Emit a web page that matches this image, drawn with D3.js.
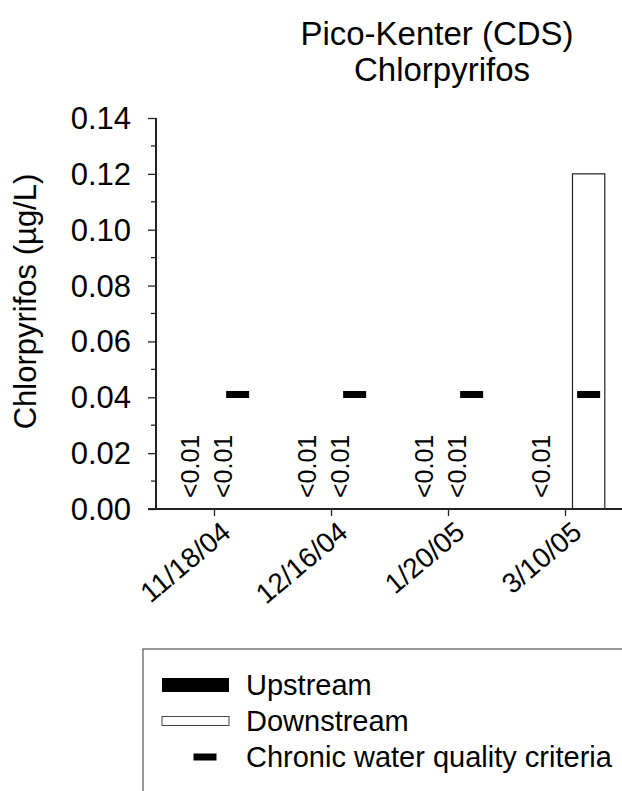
<!DOCTYPE html>
<html>
<head>
<meta charset="utf-8">
<script src="https://cdn.jsdelivr.net/npm/d3@7"></script>
<style>
  body { margin: 0; background: #fff; }
  text { font-family: "Liberation Sans", Arial, sans-serif; fill: #000; }
</style>
</head>
<body>
<div id="chart"></div>
<script>
// sampling dates and results (null = below detection limit, shown as "<0.01")
var dates = ["11/18/04", "12/16/04", "1/20/05", "3/10/05"];
var series = ["Upstream", "Downstream"];
var upstream = [null, null, null, null];
var downstream = [null, null, null, 0.12];
var criteria = [0.041, 0.041, 0.041, 0.041];
var ndLabel = "<0.01";
var yTicks = [0, 0.02, 0.04, 0.06, 0.08, 0.10, 0.12, 0.14];
var yMinor = [0.01, 0.03, 0.05, 0.07, 0.09, 0.11, 0.13];
var legendItems = ["Upstream", "Downstream", "Chronic water quality criteria"];

var W = 622, H = 791;
var plot = {left: 156, right: 624, top: 118, bottom: 509};
var barW = 32.3, groupShift = 7;

var svg = d3.select("#chart").append("svg")
    .attr("width", W).attr("height", H);

var x = d3.scaleBand().domain(dates).range([plot.left, plot.right]);
var xs = d3.scaleBand().domain(series).range([-barW, barW]);
var y = d3.scaleLinear().domain([0, 0.14]).range([plot.bottom, plot.top]);

function center(d) { return x(d) + x.bandwidth() / 2 + groupShift; }

// title
svg.append("text").attr("x", 437).attr("y", 45).attr("text-anchor", "middle")
    .style("font-size", "33px").text("Pico-Kenter (CDS)");
svg.append("text").attr("x", 442).attr("y", 81).attr("text-anchor", "middle")
    .style("font-size", "33px").text("Chlorpyrifos");

// y label
svg.append("text")
    .attr("transform", "translate(36," + ((plot.top + plot.bottom) / 2 - 12) + ") rotate(-90)")
    .attr("text-anchor", "middle")
    .style("font-size", "31px")
    .text("Chlorpyrifos (\u00b5g/L)");

// bars
var rows = dates.map(function(d, i) {
  return {date: d, Upstream: upstream[i], Downstream: downstream[i], crit: criteria[i]};
});

var g = svg.selectAll(".grp").data(rows).enter().append("g")
    .attr("class", "grp")
    .attr("transform", function(d) { return "translate(" + center(d.date) + ",0)"; });

g.selectAll("rect.bar")
    .data(function(d) { return series.map(function(s) { return {s: s, v: d[s]}; }); })
    .enter().append("rect")
    .attr("class", "bar")
    .filter(function(d) { return d.v != null; })
    .attr("x", function(d) { return xs(d.s); })
    .attr("width", xs.bandwidth())
    .attr("y", function(d) { return y(d.v); })
    .attr("height", function(d) { return y(0) - y(d.v); })
    .attr("fill", function(d) { return d.s == "Upstream" ? "#000" : "#fff"; })
    .attr("stroke", "#222").attr("stroke-width", 1.2);

// non-detect labels
g.selectAll("text.nd")
    .data(function(d) { return series.filter(function(s) { return d[s] == null; }); })
    .enter().append("text")
    .attr("class", "nd")
    .attr("transform", function(s) {
      return "translate(" + (xs(s) + xs.bandwidth() / 2 - 6) + "," + (y(0) - 11) + ") rotate(-90)";
    })
    .style("font-size", "25px")
    .text(ndLabel);

// criteria marks
g.append("rect")
    .attr("x", xs("Downstream") + xs.bandwidth() / 2 - 11.5)
    .attr("width", 23)
    .attr("y", function(d) { return y(d.crit) - 3.5; })
    .attr("height", 7)
    .attr("fill", "#000");

// axes
var yAxis = d3.axisLeft(y).tickValues(yTicks).tickSize(8).tickPadding(17)
    .tickFormat(d3.format(".2f"));
var yAx = svg.append("g").attr("transform", "translate(" + plot.left + ",0)").call(yAxis);
yAx.select(".domain").remove();
yAx.selectAll("text").style("font-size", "31px").attr("dy", "0.34em");
yAx.selectAll("line").attr("stroke", "#222").attr("stroke-width", 1.3);

svg.append("g").selectAll("line").data(yMinor).enter().append("line")
    .attr("x1", plot.left - 5).attr("x2", plot.left)
    .attr("y1", function(d) { return y(d); }).attr("y2", function(d) { return y(d); })
    .attr("stroke", "#222").attr("stroke-width", 1.3);

svg.append("line")
    .attr("x1", plot.left).attr("x2", plot.left)
    .attr("y1", plot.top).attr("y2", plot.bottom)
    .attr("stroke", "#222").attr("stroke-width", 2);

var xAxis = d3.axisBottom(x).tickSize(7).tickSizeOuter(0).tickFormat("");
var xAx = svg.append("g").attr("transform", "translate(0," + plot.bottom + ")").call(xAxis);
xAx.select(".domain").remove();
xAx.selectAll("line").attr("stroke", "#222").attr("stroke-width", 1.3);

svg.append("line")
    .attr("x1", plot.left - 8).attr("x2", W)
    .attr("y1", plot.bottom).attr("y2", plot.bottom)
    .attr("stroke", "#222").attr("stroke-width", 2);

svg.append("g").selectAll("text").data(dates).enter().append("text")
    .attr("transform", function(d) {
      return "translate(" + (x(d) + x.bandwidth() / 2 + 18) + "," + (plot.bottom + 26) + ") rotate(-40)";
    })
    .attr("text-anchor", "end")
    .style("font-size", "28px")
    .text(function(d) { return d; });

// legend
var leg = svg.append("g");
leg.append("rect").attr("x", 143).attr("y", 649).attr("width", 520).attr("height", 200)
    .attr("fill", "none").attr("stroke", "#555").attr("stroke-width", 1.2);

var legY = d3.scalePoint().domain(legendItems).range([685, 757]);
leg.append("rect").attr("x", 162).attr("y", legY("Upstream") - 7).attr("width", 67).attr("height", 14)
    .attr("fill", "#000");
leg.append("rect").attr("x", 162).attr("y", legY("Downstream") - 4.5).attr("width", 67).attr("height", 9)
    .attr("fill", "#fff").attr("stroke", "#444").attr("stroke-width", 1);
leg.append("rect").attr("x", 193.5).attr("y", legY("Chronic water quality criteria") - 3.5)
    .attr("width", 23).attr("height", 7).attr("fill", "#000");
leg.selectAll("text.lt").data(legendItems).enter().append("text")
    .attr("class", "lt")
    .attr("x", 246).attr("y", function(d) { return legY(d); })
    .attr("dy", "0.36em")
    .style("font-size", "29px")
    .text(function(d) { return d; });
</script>
</body>
</html>
